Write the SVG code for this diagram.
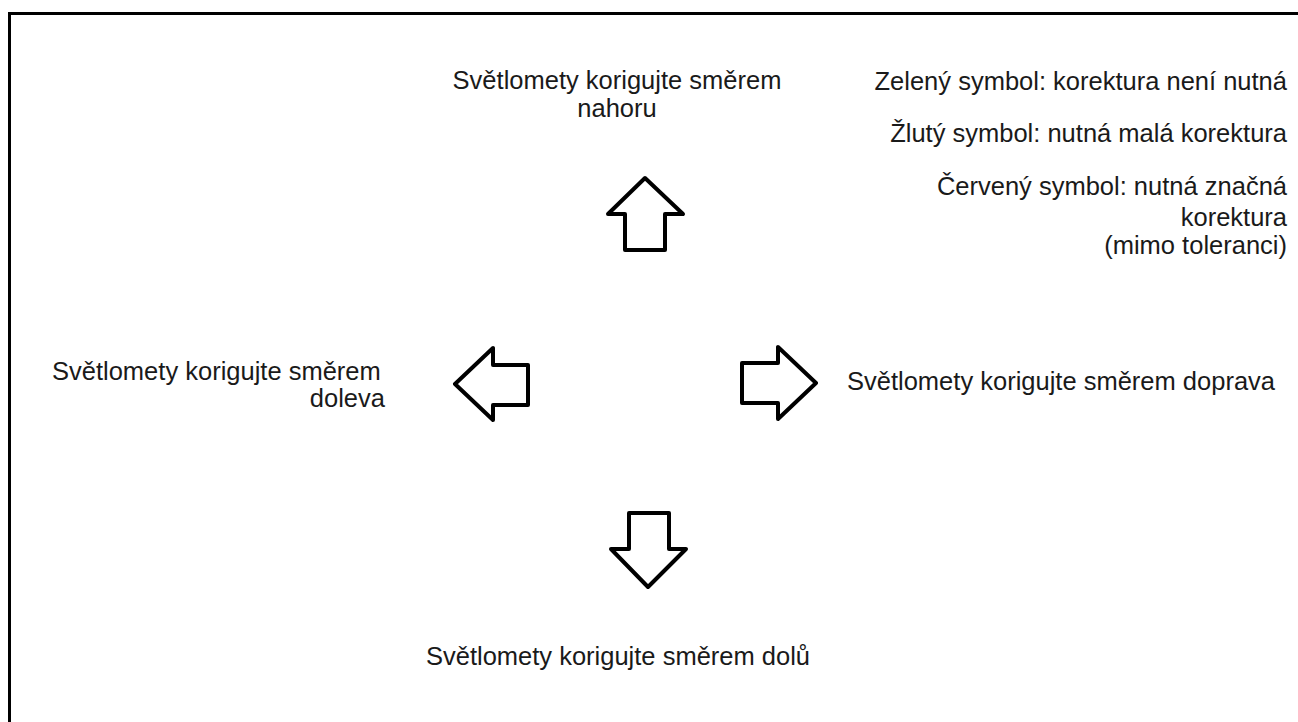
<svg xmlns="http://www.w3.org/2000/svg" width="1298" height="722" viewBox="0 0 1298 722">
<style>
.t{font-family:"Liberation Sans",Arial,sans-serif;font-size:25.5px;fill:#1a1a1a}
.r{text-anchor:end}
.m{text-anchor:middle}
.a{fill:#fff;stroke:#000;stroke-width:4;stroke-linejoin:round}
</style>
<rect width="1298" height="722" fill="#fff"/>
<rect x="9.5" y="13.5" width="1300" height="720" fill="none" stroke="#000" stroke-width="3"/>
<g id="legend">
<text class="t r" x="1287" y="90">Zelený symbol: korektura není nutná</text>
<text class="t r" x="1287" y="142">Žlutý symbol: nutná malá korektura</text>
<text class="t r" x="1287" y="195">Červený symbol: nutná značná</text>
<text class="t r" x="1287" y="226">korektura</text>
<text class="t r" x="1287" y="254">(mimo toleranci)</text>
</g>
<g id="up">
<path class="a" d="M645,178 L683,214 L665,214 L665,250 L625,250 L625,214 L608,214 Z"/>
<text class="t m" x="617" y="89">Světlomety korigujte směrem</text>
<text class="t m" x="617" y="117">nahoru</text>
</g>
<g id="left">
<path class="a" d="M455,384 L493,348 L493,365 L528,365 L528,405 L493,405 L493,420 Z"/>
<text class="t" x="52" y="380">Světlomety korigujte směrem</text>
<text class="t r" x="385" y="407">doleva</text>
</g>
<g id="right">
<path class="a" d="M816,383 L778,347 L778,363 L742,363 L742,403 L778,403 L778,419 Z"/>
<text class="t" x="847" y="390">Světlomety korigujte směrem doprava</text>
</g>
<g id="down">
<path class="a" d="M648,587 L686,549 L669,549 L669,513 L629,513 L629,549 L611,549 Z"/>
<text class="t m" x="618" y="665">Světlomety korigujte směrem dolů</text>
</g>
<g id="connectors"/>
</svg>
